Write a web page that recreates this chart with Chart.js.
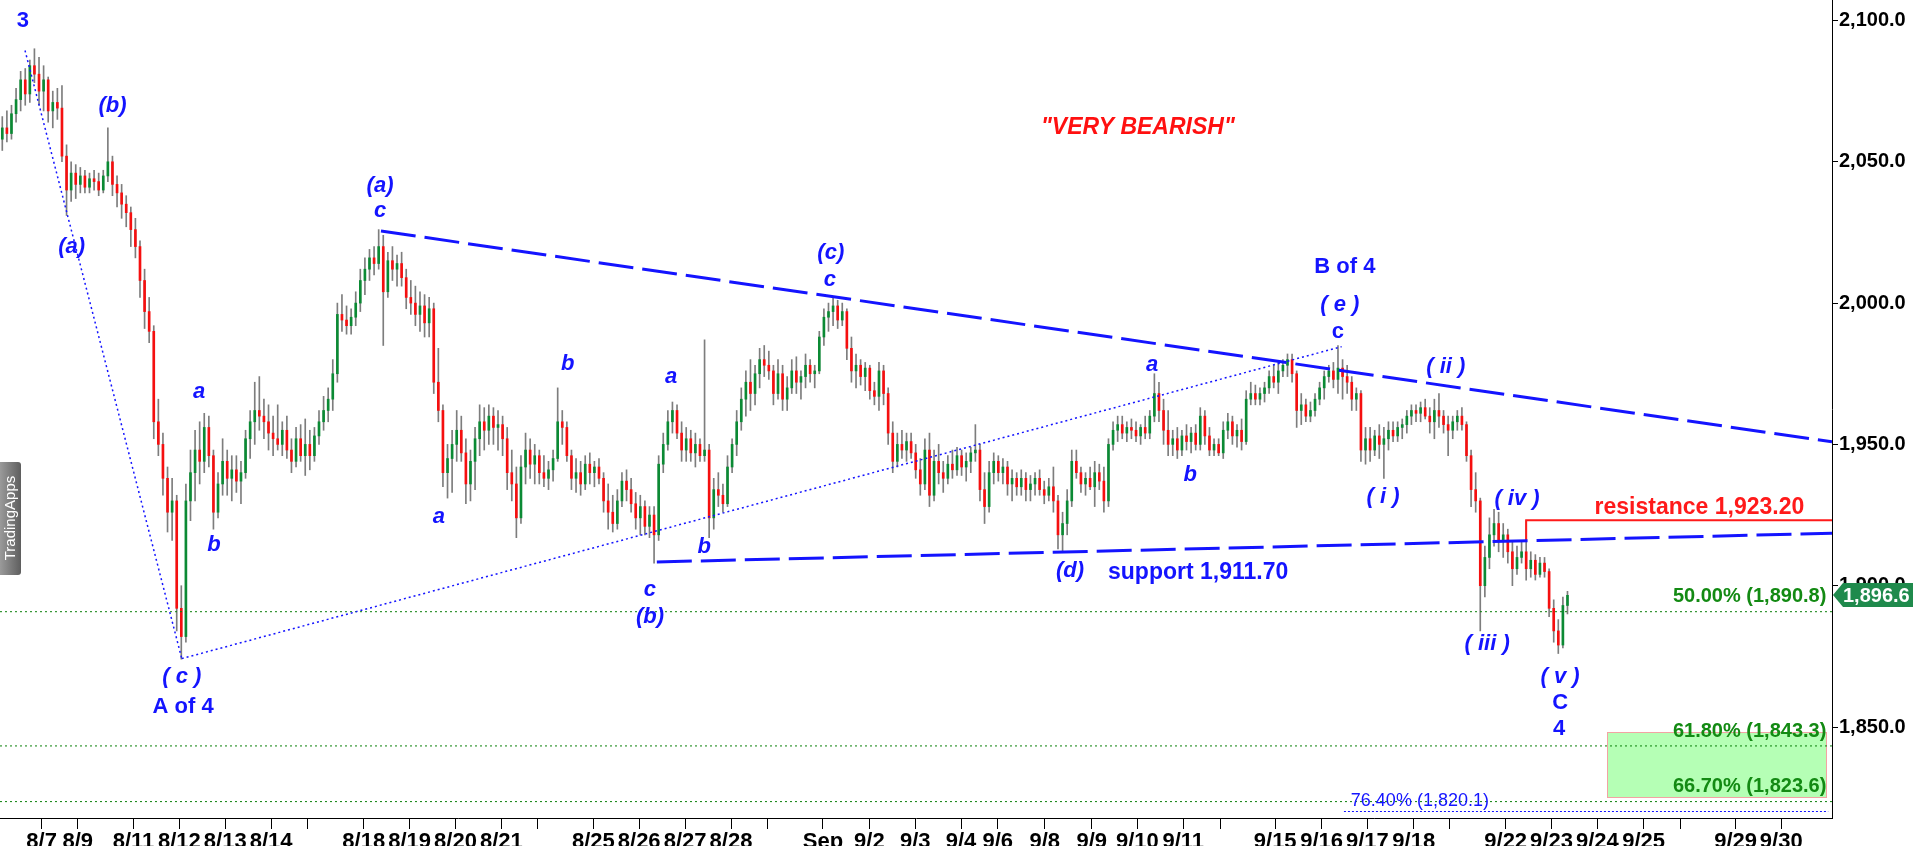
<!DOCTYPE html>
<html>
<head>
<meta charset="utf-8">
<title>Gold - wave count</title>
<script src="https://cdn.jsdelivr.net/npm/chart.js@4.4.0/dist/chart.umd.min.js"></script>
<style>
  html, body { margin: 0; padding: 0; background: #fff; }
  #wrap { width: 1916px; height: 846px; }
</style>
</head>
<body>
<div id="wrap"><canvas id="chart" width="1916" height="846"></canvas></div>
<script>
// one slot per candle, ~10 slots per session
const opens = [
  2058,2062,2060,2067,2072,2079,2074,2084,2081,2075,
  2079,2068,2071,2069,2052,2040,2046,2042,2045,2041,
  2044,2043,2040,2045,2050,2042,2039,2035,2032,2026,
  2020,2008,1997,1990,1958,1950,1938,1926,1930,1892,
  1882,1930,1940,1948,1944,1956,1946,1926,1936,1944,
  1938,1941,1937,1940,1952,1958,1962,1960,1958,1954,
  1952,1950,1955,1948,1944,1952,1946,1950,1946,1953,
  1958,1962,1966,1975,1996,1994,1992,1995,2000,2008,
  2012,2016,2014,2020,2004,2015,2012,2014,2009,2002,
  2000,1996,1999,1993,1998,1972,1962,1940,1945,1950,
  1955,1947,1936,1944,1952,1958,1955,1960,1956,1957,
  1952,1940,1936,1924,1942,1948,1943,1946,1940,1938,
  1941,1945,1958,1956,1946,1938,1940,1936,1943,1940,
  1942,1938,1930,1926,1922,1930,1937,1934,1929,1924,
  1928,1921,1925,1918,1943,1950,1958,1962,1954,1948,
  1952,1947,1950,1946,1948,1924,1934,1932,1929,1942,
  1950,1958,1966,1972,1968,1975,1980,1978,1976,1968,
  1975,1966,1970,1976,1972,1974,1978,1975,1976,1988,
  1995,1997,1999,1994,1997,1984,1976,1978,1974,1977,
  1969,1967,1976,1968,1954,1944,1950,1948,1951,1947,
  1941,1936,1948,1932,1944,1940,1938,1943,1941,1946,
  1942,1944,1947,1948,1934,1928,1940,1944,1940,1942,
  1936,1938,1935,1938,1934,1936,1938,1934,1932,1935,
  1930,1918,1922,1930,1944,1940,1936,1938,1935,1940,
  1937,1930,1950,1955,1957,1954,1956,1955,1953,1956,
  1954,1960,1968,1962,1955,1950,1952,1948,1953,1951,
  1954,1950,1960,1953,1948,1950,1947,1955,1958,1953,
  1955,1951,1966,1968,1966,1968,1970,1974,1972,1976,
  1978,1980,1975,1962,1964,1960,1962,1966,1970,1974,
  1976,1973,1977,1974,1972,1966,1968,1948,1952,1948,
  1953,1950,1952,1955,1953,1956,1957,1960,1962,1961,
  1963,1960,1958,1962,1960,1957,1955,1958,1960,1957,
  1946,1934,1930,1900,1910,1918,1922,1916,1918,1912,
  1906,1910,1912,1906,1909,1904,1908,1905,1892,1884,
  1879,1893
];
const highs = [
  2066,2068,2070,2076,2082,2083,2086,2090,2087,2084,
  2080,2075,2076,2077,2056,2050,2049,2048,2047,2046,
  2047,2046,2047,2062,2052,2045,2042,2038,2034,2030,
  2022,2012,2002,1992,1966,1954,1942,1938,1932,1900,
  1936,1948,1955,1958,1961,1960,1948,1940,1952,1948,
  1946,1946,1944,1955,1962,1972,1974,1966,1964,1960,
  1964,1958,1960,1952,1956,1957,1959,1955,1956,1962,
  1967,1970,1980,2000,2003,1999,1998,2004,2012,2016,
  2019,2020,2026,2024,2018,2020,2017,2018,2012,2008,
  2006,2004,2003,2002,2000,1984,1964,1950,1955,1962,
  1960,1952,1948,1956,1964,1963,1964,1963,1962,1960,
  1956,1948,1942,1946,1954,1952,1950,1948,1946,1944,
  1948,1970,1962,1958,1948,1945,1944,1946,1947,1944,
  1945,1940,1936,1932,1934,1940,1941,1938,1933,1932,
  1930,1928,1928,1946,1954,1962,1965,1964,1958,1956,
  1955,1954,1952,1987,1950,1938,1940,1936,1946,1952,
  1962,1970,1976,1980,1978,1984,1985,1983,1978,1980,
  1978,1974,1980,1981,1976,1982,1980,1978,1990,1998,
  2000,2002,2001,2000,1998,1988,1982,1980,1979,1978,
  1972,1979,1978,1970,1958,1954,1955,1954,1954,1950,
  1945,1952,1954,1948,1950,1944,1946,1948,1949,1948,
  1947,1949,1957,1950,1940,1944,1947,1946,1945,1944,
  1941,1940,1941,1940,1939,1940,1941,1937,1938,1942,
  1932,1926,1934,1948,1948,1942,1940,1942,1944,1943,
  1942,1952,1958,1960,1960,1958,1959,1958,1957,1960,
  1962,1975,1972,1966,1962,1955,1956,1955,1957,1956,
  1957,1963,1962,1956,1952,1952,1958,1961,1960,1957,
  1959,1969,1972,1971,1970,1972,1976,1978,1979,1980,
  1982,1982,1976,1968,1966,1965,1968,1972,1976,1978,
  1979,1985,1980,1978,1974,1970,1969,1956,1956,1955,
  1957,1956,1958,1958,1958,1959,1962,1964,1964,1965,
  1966,1963,1966,1968,1962,1960,1960,1962,1963,1958,
  1948,1940,1931,1914,1924,1927,1926,1922,1920,1916,
  1914,1916,1923,1912,1911,1910,1910,1906,1895,1888,
  1896,1898
];
const lows = [
  2054,2057,2058,2064,2068,2070,2071,2078,2070,2068,
  2064,2062,2065,2050,2031,2036,2037,2039,2039,2039,
  2040,2038,2039,2043,2038,2034,2030,2027,2020,2016,
  2002,1991,1986,1952,1946,1932,1919,1916,1884,1874,
  1880,1923,1930,1936,1940,1942,1920,1924,1932,1932,
  1930,1933,1929,1938,1945,1950,1955,1952,1948,1946,
  1948,1946,1945,1940,1942,1944,1939,1941,1944,1950,
  1955,1958,1962,1972,1990,1989,1989,1992,1997,2003,
  2008,2010,2012,1985,2002,2008,2006,2006,1998,1996,
  1992,1990,1988,1988,1968,1958,1935,1931,1933,1944,
  1944,1929,1930,1934,1946,1948,1950,1950,1948,1946,
  1934,1930,1917,1922,1936,1938,1936,1936,1935,1934,
  1937,1944,1950,1944,1934,1933,1932,1934,1936,1935,
  1936,1926,1920,1919,1920,1928,1930,1926,1920,1918,
  1918,1917,1908,1916,1940,1948,1954,1952,1944,1944,
  1944,1942,1944,1944,1917,1920,1928,1926,1928,1940,
  1946,1955,1960,1962,1964,1970,1974,1973,1964,1966,
  1962,1962,1968,1968,1966,1970,1972,1970,1975,1985,
  1990,1992,1991,1992,1980,1972,1970,1971,1969,1966,
  1964,1962,1964,1950,1940,1942,1945,1944,1945,1938,
  1932,1934,1928,1930,1936,1933,1936,1938,1939,1939,
  1937,1940,1944,1930,1922,1926,1936,1937,1936,1932,
  1930,1932,1932,1930,1930,1932,1932,1929,1930,1926,
  1913,1912,1918,1928,1938,1933,1932,1934,1928,1934,
  1926,1928,1948,1951,1952,1951,1952,1951,1950,1952,
  1952,1958,1958,1950,1946,1946,1945,1946,1948,1947,
  1948,1948,1950,1946,1946,1946,1945,1952,1950,1949,
  1948,1950,1964,1964,1964,1965,1968,1970,1968,1974,
  1974,1972,1956,1957,1958,1958,1960,1964,1966,1972,
  1970,1968,1966,1968,1962,1962,1944,1943,1944,1946,
  1945,1938,1948,1951,1951,1952,1954,1957,1958,1958,
  1959,1954,1952,1956,1954,1946,1952,1955,1955,1944,
  1928,1926,1884,1896,1906,1914,1912,1910,1908,1900,
  1904,1908,1902,1903,1902,1903,1903,1889,1880,1876,
  1878,1890
];
const closes = [
  2062,2060,2067,2072,2079,2074,2084,2081,2075,2079,
  2068,2071,2069,2052,2040,2046,2042,2045,2041,2044,
  2043,2040,2045,2050,2042,2039,2035,2032,2026,2020,
  2008,1997,1990,1958,1950,1938,1926,1930,1892,1882,
  1930,1940,1948,1944,1956,1946,1926,1936,1944,1938,
  1941,1937,1940,1952,1958,1962,1960,1958,1954,1952,
  1950,1955,1948,1944,1952,1946,1950,1946,1953,1958,
  1962,1966,1975,1996,1994,1992,1995,2000,2008,2012,
  2016,2014,2020,2004,2015,2012,2014,2009,2002,2000,
  1996,1999,1993,1998,1972,1962,1940,1945,1950,1955,
  1947,1936,1944,1952,1958,1955,1960,1956,1957,1952,
  1940,1936,1924,1942,1948,1943,1946,1940,1938,1941,
  1945,1958,1956,1946,1938,1940,1936,1943,1940,1942,
  1938,1930,1926,1922,1930,1937,1934,1929,1924,1928,
  1921,1925,1918,1943,1950,1958,1962,1954,1948,1952,
  1947,1950,1946,1948,1924,1934,1932,1929,1942,1950,
  1958,1966,1972,1968,1975,1980,1978,1976,1968,1975,
  1966,1970,1976,1972,1974,1978,1975,1976,1988,1995,
  1997,1999,1994,1997,1984,1976,1978,1974,1977,1969,
  1967,1976,1968,1954,1944,1950,1948,1951,1947,1941,
  1936,1948,1932,1944,1940,1938,1943,1941,1946,1942,
  1944,1947,1948,1934,1928,1940,1944,1940,1942,1936,
  1938,1935,1938,1934,1936,1938,1934,1932,1935,1930,
  1918,1922,1930,1944,1940,1936,1938,1935,1940,1937,
  1930,1950,1955,1957,1954,1956,1955,1953,1956,1954,
  1960,1968,1962,1955,1950,1952,1948,1953,1951,1954,
  1950,1960,1953,1948,1950,1947,1955,1958,1953,1955,
  1951,1966,1968,1966,1968,1970,1974,1972,1976,1978,
  1980,1975,1962,1964,1960,1962,1966,1970,1974,1976,
  1973,1977,1974,1972,1966,1968,1948,1952,1948,1953,
  1950,1952,1955,1953,1956,1957,1960,1962,1961,1963,
  1960,1958,1962,1960,1957,1955,1958,1960,1957,1946,
  1934,1930,1900,1910,1918,1922,1916,1918,1912,1906,
  1910,1912,1906,1909,1904,1908,1905,1892,1884,1879,
  1893,1896.6
];

// date ticks (slot position) and their labels; '' = weekend break tick
const xTickPos = [9.06, 16.95, 29.08, 39.08, 49.08, 59.08, 66.95, 79.24, 89.24, 99.24, 109.24, 117.12,
  129.26, 139.26, 149.26, 159.26, 167.15, 179.28, 189.41, 199.41, 209.37, 217.39, 227.62, 237.84,
  247.8, 257.78, 265.88, 277.82, 287.93, 297.89, 308.0, 315.82, 328.04, 338.02, 348.0, 358.1,
  366.03, 378.13, 388.08];
const xTickLabels = ['8/7', '8/9', '8/11', '8/12', '8/13', '8/14', '', '8/18', '8/19', '8/20', '8/21', '',
  '8/25', '8/26', '8/27', '8/28', '', 'Sep', '9/2', '9/3', '9/4', '9/6', '9/8', '9/9',
  '9/10', '9/11', '', '9/15', '9/16', '9/17', '9/18', '', '9/22', '9/23', '9/24', '9/25',
  '', '9/29', '9/30'];
const yTickValues = [1850, 1900, 1950, 2000, 2050, 2100];

// fibonacci retracement levels
const fibPct = ['50.00%', '61.80%', '66.70%', '76.40%'];
const fibLevel = [1890.8, 1843.3, 1823.6, 1820.1];

// drawn lines: [slot, price] end points
const triangleTop = [[83.0, 2025.5], [399.13, 1950.9]];
const triangleSupport = [[143.1, 1908.4], [399.13, 1918.55]];
const waveLineA = [[5.45, 2089.4], [39.6, 1874.2]];
const waveLineB = [[39.6, 1874.2], [292.3, 1984.6]];
const resistance = 1923.2;
const targetZone = [1848.3, 1825.1];

const X_MAX = 399.13;
const Y_MIN = 1817.8, Y_MAX = 2107.25;

const BLUE = '#1414ff';
const GREEN_TXT = '#138a13';
const FONT = '"Liberation Sans", Arial, sans-serif';

const fmt = (v, d) => v.toLocaleString('en-US', { minimumFractionDigits: d, maximumFractionDigits: d });

// wave labels: [text, slot, price]
const waveItalic = [
  ['(b)', 24.5, 2069.9], ['(a)', 15.6, 2019.7], ['a', 43.4, 1968.5], ['b', 46.6, 1914.4],
  ['( c )', 39.6, 1867.8], ['(a)', 82.8, 2041.4], ['c', 82.8, 2032.6], ['a', 95.6, 1924.3],
  ['b', 123.7, 1978.5], ['a', 146.2, 1973.9], ['b', 153.4, 1913.7], ['c', 141.6, 1898.5],
  ['(b)', 141.6, 1888.9], ['(c)', 181.0, 2017.7], ['c', 180.8, 2008.2], ['(d)', 233.1, 1905.1],
  ['a', 251.0, 1978.1], ['b', 259.3, 1939.2], ['( e )', 291.9, 1999.2], ['( ii )', 315.0, 1977.4],
  ['( i )', 301.3, 1931.4], ['( iii )', 324.0, 1879.4], ['( iv )', 330.5, 1930.7], ['( v )', 339.9, 1867.7]
];
const waveUpright = [
  ['3', 5.0, 2100.0], ['A of 4', 39.9, 1857.1], ['B of 4', 293.0, 2012.8], ['c', 291.5, 1989.9],
  ['C', 339.9, 1858.5], ['4', 339.7, 1849.3]
];

function lineSet(points, color, width, dash) {
  return {
    type: 'line',
    data: points.map(p => ({ x: p[0], y: p[1] })),
    borderColor: color,
    borderWidth: width,
    borderDash: dash,
    pointRadius: 0,
    fill: false,
    order: 0,
  };
}

const bodyData = closes.map((c, i) => ({ x: i + 0.5, y: [opens[i], c] }));
const wickData = closes.map((c, i) => ({ x: i + 0.5, y: [lows[i], highs[i]] }));

const datasets = [
  {
    type: 'bar',
    data: bodyData,
    backgroundColor: closes.map((c, i) => c >= opens[i] ? '#0b8a34' : '#f50f0f'),
    barThickness: 2,
    minBarLength: 1,
    grouped: false,
    order: 1,
  },
  {
    type: 'bar',
    data: wickData,
    backgroundColor: '#7d7d7d',
    barThickness: 1,
    grouped: false,
    order: 2,
  },
  lineSet(triangleTop, BLUE, 3, [35, 9]),
  lineSet(triangleSupport, BLUE, 3, [35, 9]),
  lineSet(waveLineA, BLUE, 1.5, [2, 3]),
  lineSet(waveLineB, BLUE, 1.5, [2, 3]),
  lineSet([[332.5, 1916], [332.5, resistance], [X_MAX, resistance]], '#ff1a1a', 2, []),
];
fibLevel.forEach((lvl, i) => {
  if (i === 3) datasets.push(lineSet([[292.8, lvl], [398.3, lvl]], BLUE, 1, [2, 2]));
  else datasets.push(lineSet([[0, lvl], [X_MAX, lvl]], '#0a800a', 1, [2, 3]));
});

function drawText(ctx, text, px, py, font, color, align) {
  ctx.font = font;
  ctx.fillStyle = color;
  ctx.textAlign = align || 'center';
  ctx.textBaseline = 'middle';
  ctx.fillText(text, px, py);
}

const overlay = {
  id: 'overlay',
  beforeDatasetsDraw(chart) {
    const { ctx, scales: { x, y } } = chart;
    const x0 = Math.round(x.getPixelForValue(350.2)), x1 = Math.round(x.getPixelForValue(397.8));
    const y0 = Math.round(y.getPixelForValue(targetZone[0])), y1 = Math.round(y.getPixelForValue(targetZone[1]));
    ctx.save();
    ctx.fillStyle = '#b5ffb5';
    ctx.fillRect(x0, y0, x1 - x0, y1 - y0);
    ctx.strokeStyle = '#f3a3a3';
    ctx.lineWidth = 1;
    ctx.strokeRect(x0 + 0.5, y0 + 0.5, x1 - x0, y1 - y0);
    ctx.restore();
  },
  afterDatasetsDraw(chart) {
    const { ctx, scales: { x, y } } = chart;
    ctx.save();
    waveItalic.forEach(([t, sx, p]) =>
      drawText(ctx, t, x.getPixelForValue(sx), y.getPixelForValue(p), `italic bold 22px ${FONT}`, BLUE));
    waveUpright.forEach(([t, sx, p]) =>
      drawText(ctx, t, x.getPixelForValue(sx), y.getPixelForValue(p), `bold 22px ${FONT}`, BLUE));

    drawText(ctx, '"VERY BEARISH"', x.getPixelForValue(247.9), y.getPixelForValue(2062.1),
      `italic bold 23px ${FONT}`, '#ff1010');
    drawText(ctx, 'resistance ' + fmt(resistance, 2), x.getPixelForValue(347.4), y.getPixelForValue(1927.7),
      `bold 23px ${FONT}`, '#ff1a1a', 'left');
    drawText(ctx, 'support 1,911.70', x.getPixelForValue(241.4), y.getPixelForValue(1904.5),
      `bold 23px ${FONT}`, BLUE, 'left');

    // fib labels
    const fibTextY = [1896.1, 1848.4, 1828.9];
    for (let i = 0; i < 3; i++) {
      drawText(ctx, `${fibPct[i]} (${fmt(fibLevel[i], 1)})`, x.getPixelForValue(397.9),
        y.getPixelForValue(fibTextY[i]), `bold 20px ${FONT}`, GREEN_TXT, 'right');
    }
    drawText(ctx, `${fibPct[3]} (${fmt(fibLevel[3], 1)})`, x.getPixelForValue(294.3),
      y.getPixelForValue(1823.8), `18px ${FONT}`, BLUE, 'left');

    // watermark
    const g = ctx.createLinearGradient(0, 0, 21, 0);
    g.addColorStop(0, '#9a9a9a');
    g.addColorStop(1, '#5e5e5e');
    ctx.fillStyle = g;
    ctx.beginPath();
    ctx.roundRect(-4, 462, 25, 113, 3);
    ctx.fill();
    ctx.translate(11, 518);
    ctx.rotate(-Math.PI / 2);
    drawText(ctx, 'TradingApps', 0, 0, `15px ${FONT}`, '#ffffff');
    ctx.restore();
  },
  afterDraw(chart) {
    const { ctx, scales: { y } } = chart;
    const last = closes[closes.length - 1];
    const py = Math.round(y.getPixelForValue(last));
    const left = chart.chartArea.right + 1;
    ctx.save();
    ctx.fillStyle = '#1f8a4c';
    ctx.beginPath();
    ctx.moveTo(left, py);
    ctx.lineTo(left + 10, py - 12);
    ctx.lineTo(1913, py - 12);
    ctx.lineTo(1913, py + 12);
    ctx.lineTo(left + 10, py + 12);
    ctx.closePath();
    ctx.fill();
    drawText(ctx, fmt(last, 1), left + 10, py + 1, `bold 20px ${FONT}`, '#ffffff', 'left');
    ctx.restore();
  }
};

new Chart(document.getElementById('chart'), {
  type: 'bar',
  data: { datasets },
  options: {
    responsive: false,
    animation: false,
    events: [],
    layout: { padding: 0, autoPadding: false },
    plugins: { legend: { display: false }, tooltip: { enabled: false } },
    scales: {
      x: {
        type: 'linear',
        min: 0,
        max: X_MAX,
        offset: false,
        grid: { drawOnChartArea: false, drawTicks: true, tickLength: 11, color: '#000', offset: false },
        border: { color: '#000' },
        ticks: {
          autoSkip: false,
          maxRotation: 0,
          padding: 0,
          color: '#000',
          font: { family: FONT, size: 22, weight: 'bold' },
          callback: (v, i) => xTickLabels[i],
        },
        afterBuildTicks: s => { s.ticks = xTickPos.map(v => ({ value: v })); },
        afterFit: s => { s.height = 28; s.paddingLeft = 0; s.paddingRight = 0; },
      },
      y: {
        position: 'right',
        min: Y_MIN,
        max: Y_MAX,
        grid: { drawOnChartArea: false, drawTicks: true, tickLength: 6, color: '#000' },
        border: { color: '#000' },
        ticks: {
          padding: 1,
          color: '#000',
          font: { family: FONT, size: 20, weight: 'bold' },
          callback: v => fmt(v, 1),
        },
        afterBuildTicks: s => { s.ticks = yTickValues.map(v => ({ value: v })); },
        afterFit: s => { s.width = 84; s.paddingTop = 0; s.paddingBottom = 0; },
      }
    }
  },
  plugins: [overlay]
});
</script>
</body>
</html>
